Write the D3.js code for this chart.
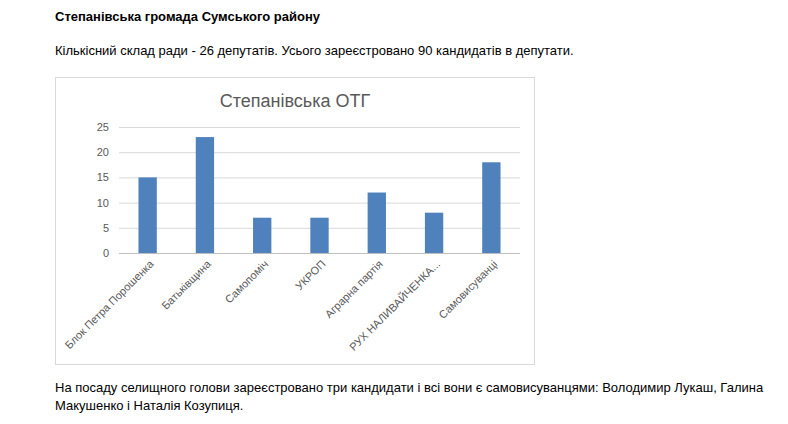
<!DOCTYPE html>
<html><head><meta charset="utf-8">
<script src="https://cdn.jsdelivr.net/npm/d3@7"></script>
<style>
body{margin:0;background:#fff;font-family:"Liberation Sans",Arial,sans-serif;}
</style></head>
<body><svg width="788" height="424"></svg>
<script>
// chart data
let categories = ["Блок Петра Порошенка","Батьківщина","Самопоміч","УКРОП","Аграрна партія","РУХ НАЛИВАЙЧЕНКА...","Самовисуванці"]
let values = [15, 23, 7, 7, 12, 8, 18]
let yTicks = [0, 5, 10, 15, 20, 25]

let svg = d3.select("svg")

// page text
svg.append("text").attr("x", 55).attr("y", 21).style("font-size", "13px").style("font-weight", "bold")
   .text("Степанівська громада Сумського району")
svg.append("text").attr("x", 55).attr("y", 55).style("font-size", "13px")
   .text("Кількісний склад ради - 26 депутатів. Усього зареєстровано 90 кандидатів в депутати.")
svg.append("text").attr("x", 55).attr("y", 392).style("font-size", "13px")
   .text("На посаду селищного голови зареєстровано три кандидати і всі вони є самовисуванцями: Володимир Лукаш, Галина")
svg.append("text").attr("x", 55).attr("y", 410).style("font-size", "13px")
   .text("Макушенко і Наталія Козупиця.")

// chart frame
svg.append("rect").attr("x", 55.5).attr("y", 77.5).attr("width", 479).attr("height", 287)
   .attr("fill", "#fff").attr("stroke", "#d9d9d9")
svg.append("text").attr("x", 295).attr("y", 107).attr("text-anchor", "middle")
   .style("font-size", "18px").style("fill", "#595959").text("Степанівська ОТГ")

let left = 119, right = 520
let xScale = d3.scaleBand().domain(categories).range([left, right]).paddingInner(0.68).paddingOuter(0.34)
let yScale = d3.scaleLinear().domain([0, 25]).range([253, 127])

// gridlines
svg.append("g").selectAll("line").data(yTicks).enter().append("line")
   .attr("x1", left).attr("x2", right)
   .attr("y1", d => yScale(d) + 0.5).attr("y2", d => yScale(d) + 0.5)
   .attr("stroke", d => d === 0 ? "#bfbfbf" : "#d9d9d9")

let yAxis = d3.axisLeft(yScale).tickValues(yTicks).tickSize(0).tickPadding(10)
let yG = svg.append("g").attr("transform", "translate(" + left + ",0)").call(yAxis)
yG.select(".domain").remove()
yG.selectAll("text").style("font-size", "11px").style("fill", "#595959").style("font-family", "Liberation Sans, Arial")

// bars
svg.selectAll(".bar").data(values).enter().append("rect")
   .attr("x", (d, i) => xScale(categories[i]))
   .attr("width", xScale.bandwidth())
   .attr("y", d => yScale(d))
   .attr("height", d => yScale(0) - yScale(d))
   .attr("fill", "#4f81bd")

// category labels
svg.append("g").selectAll("text").data(categories).enter().append("text")
   .attr("transform", d => "translate(" + (xScale(d) + xScale.bandwidth() / 2 + 4) + ",262) rotate(-45)")
   .attr("text-anchor", "end").attr("dy", "0.35em")
   .style("font-size", "11px").style("fill", "#595959")
   .text(d => d)
</script></body></html>
